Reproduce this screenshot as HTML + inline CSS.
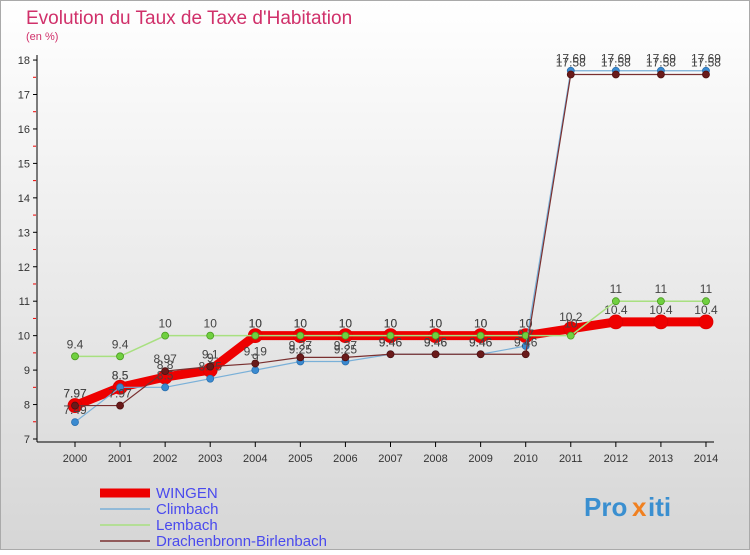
<!DOCTYPE html>
<html><head><meta charset="utf-8"><style>
body{margin:0;width:750px;height:550px;overflow:hidden;font-family:"Liberation Sans",sans-serif}
</style></head><body>
<svg width="750" height="550">
<defs><linearGradient id="bg" x1="0" y1="0" x2="0" y2="1"><stop offset="0" stop-color="#ffffff"/><stop offset="1" stop-color="#d6d6d6"/></linearGradient></defs>
<rect x="0.5" y="0.5" width="749" height="549" fill="url(#bg)" stroke="#aaa"/>
<text x="26" y="24" font-size="19" fill="#d0306a">Evolution du Taux de Taxe d'Habitation</text>
<text x="26" y="40" font-size="11" fill="#d0306a">(en %)</text>
<g id="axes"></g><g id="series"></g><g id="legend"></g>
<g font-size="26" font-weight="bold">
<text x="584" y="516" fill="#3a8fd0">Pro</text><text x="632" y="516" fill="#f08020">x</text><text x="648" y="516" fill="#3a8fd0">iti</text>
</g>
</svg>
<script>
const years=[2000,2001,2002,2003,2004,2005,2006,2007,2008,2009,2010,2011,2012,2013,2014];
const yTicks=[7,8,9,10,11,12,13,14,15,16,17,18];
const wingen=[7.97,8.5,8.8,9.0,10,10,10,10,10,10,10,10.2,10.4,10.4,10.4];
const climbach=[7.49,8.5,8.5,8.75,9.0,9.25,9.25,9.46,9.46,9.46,9.7,17.69,17.69,17.69,17.69];
const lembach=[9.4,9.4,10,10,10,10,10,10,10,10,10,10,11,11,11];
const drachen=[7.97,7.97,8.97,9.1,9.19,9.37,9.37,9.46,9.46,9.46,9.46,17.58,17.58,17.58,17.58];
const names=["WINGEN","Climbach","Lembach","Drachenbronn-Birlenbach"];
const NS="http://www.w3.org/2000/svg";
const X=i=>75+i*45.07, Y=v=>439-(v-7)*34.45;
function mk(t,a,p){const e=document.createElementNS(NS,t);for(const k in a)e.setAttribute(k,a[k]);p.appendChild(e);return e;}
const ax=document.getElementById('axes');
const yl=mk('line',{x1:37,y1:55,x2:37,y2:442,stroke:'#000'},ax);


const xl=mk('line',{x1:37,y1:442,x2:714,y2:442,stroke:'#000'},ax);


yTicks.forEach(v=>{
 mk('line',{x1:33,y1:Y(v),x2:37,y2:Y(v),stroke:'#000'},ax);
 if(v<18)mk('line',{x1:33,y1:Y(v+0.5),x2:36,y2:Y(v+0.5),stroke:'#e00'},ax);
 const t=mk('text',{x:30,y:Y(v)+4,'font-size':11,'text-anchor':'end',fill:'#333'},ax);t.textContent=v;
 
 
});
years.forEach((y,i)=>{
 mk('line',{x1:X(i),y1:442,x2:X(i),y2:447,stroke:'#000'},ax);
 const t=mk('text',{x:X(i),y:462,'font-size':11,'text-anchor':'middle',fill:'#333'},ax);t.textContent=y;
 
 
});
const sg=document.getElementById('series');
function series(d,col,w,r,name,lbl){
 const g=mk('g',{},sg);
 
 
 mk('polyline',{points:d.map((v,i)=>X(i)+','+Y(v)).join(' '),fill:'none',stroke:col,'stroke-width':w},g);
 d.forEach((v,i)=>{
  const c=mk('circle',{cx:X(i),cy:Y(v),r:r,fill:col,stroke:lbl,'stroke-width':0.8},g);
  
  
  const t=mk('text',{x:X(i),y:Y(v)-8,'font-size':12,'text-anchor':'middle',fill:'#444'},g);t.textContent=v;
 });
}
series(wingen,'#ee0000',9,7,'series-wingen','#d00');
series(climbach,'#7ab0d8',1.2,3.5,'series-climbach','#2a70b0');
series(lembach,'#a8e080',1.5,3.5,'series-lembach','#4a9a20');
series(drachen,'#7a3030',1.2,3.5,'series-drachenbronn','#501010');
sg.querySelectorAll('g')[1].querySelectorAll('circle').forEach(c=>c.setAttribute('fill','#3a8ad0'));
sg.querySelectorAll('g')[2].querySelectorAll('circle').forEach(c=>c.setAttribute('fill','#70d040'));
sg.querySelectorAll('g')[3].querySelectorAll('circle').forEach(c=>c.setAttribute('fill','#6a1a1a'));
const lg=document.getElementById('legend');
const lc=['#ee0000','#7ab0d8','#a8e080','#7a3030'],lw=[9,1.5,1.5,1.5];
names.forEach((n,i)=>{
 const y=493+i*16;
 const g=mk('g',{},lg);
 
 
 mk('line',{x1:100,y1:y,x2:150,y2:y,stroke:lc[i],'stroke-width':lw[i]},g);
 const t=mk('text',{x:156,y:y+5,'font-size':15,fill:'#4a4aee'},g);t.textContent=n;
});
</script>
</body></html>
